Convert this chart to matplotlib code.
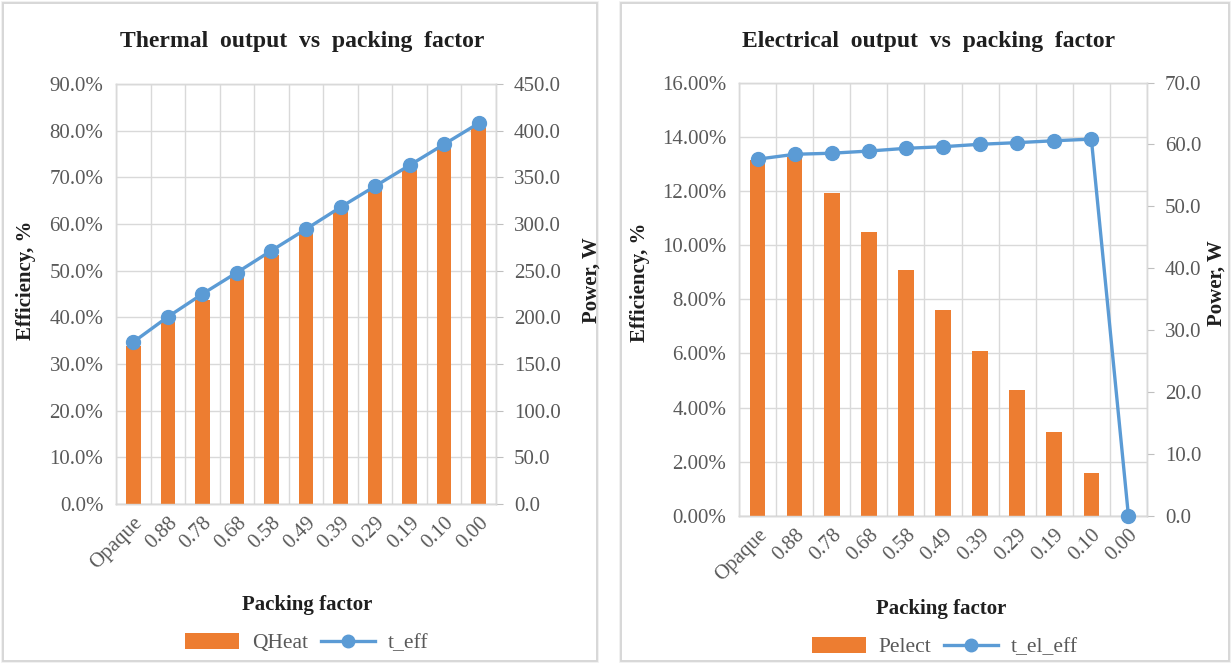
import matplotlib
matplotlib.use("Agg")
import matplotlib.pyplot as plt
from matplotlib.patches import Rectangle, Patch
from matplotlib.lines import Line2D
from matplotlib.ticker import FuncFormatter, MultipleLocator, FixedLocator

# ---- data ----
categories = ["Opaque", "0.88", "0.78", "0.68", "0.58", "0.49", "0.39", "0.29", "0.19", "0.10", "0.00"]

thermal_eff = [34.7, 40.1, 45.0, 49.6, 54.3, 58.9, 63.6, 68.1, 72.6, 77.1, 81.6]      # %
thermal_power = [169, 195, 219, 243, 267, 290, 313, 336, 358, 381, 403]                # W

electrical_eff = [13.17, 13.35, 13.39, 13.47, 13.57, 13.63, 13.72, 13.78, 13.85, 13.91, 0.0]  # %
electrical_power = [57.5, 58.0, 52.2, 45.9, 39.7, 33.3, 26.7, 20.3, 13.5, 6.9, 0.0]          # W

ORANGE = "#ED7D31"
BLUE = "#5B9BD5"
GRID = "#D9D9D9"
TICK = "#595959"
DARK = "#1F1F1F"
SERIF = ["Liberation Serif", "DejaVu Serif"]

TICK_FS = 15
TITLE_FS = 17
LABEL_FS = 15
LEGEND_FS = 15.5

plt.rcParams["font.family"] = SERIF

W, H = 1231, 663
fig = plt.figure(figsize=(W / 100, H / 100), dpi=100)


def px_rect(x0, y0, x1, y1):
    """Figure-fraction rectangle from pixel box (top-left origin)."""
    return [x0 / W, 1 - y1 / H, (x1 - x0) / W, (y1 - y0) / H]


def fx(x):
    return x / W


def fy(y):
    return 1 - y / H


# panel frames with a soft edge
for (x0, y0, x1, y1) in [(3, 3, 597, 661), (621, 3, 1229, 661)]:
    for k, c in enumerate(["#EFEFEF", "#E3E3E3", "#D6D6D6"]):
        fig.patches.append(Rectangle((fx(x0 - 1 + k * 0.6), fy(y1 + 1 - k * 0.6)),
                                     (x1 - x0 + 2 - k * 1.2) / W, (y1 - y0 + 2 - k * 1.2) / H,
                                     transform=fig.transFigure, fill=False,
                                     edgecolor=c, linewidth=1.2, zorder=0))


def make_panel(box, eff, power, eff_max, eff_step, eff_fmt, pow_max, pow_step):
    ax = fig.add_axes(px_rect(*box))
    ax2 = ax.twinx()
    n = len(categories)
    xs = list(range(n))

    ax.set_xlim(-0.5, n - 0.5)
    ax.set_ylim(0, eff_max)
    ax2.set_ylim(0, pow_max)

    # grid: horizontal on efficiency ticks, vertical on category boundaries
    ax.yaxis.set_major_locator(MultipleLocator(eff_step))
    ax.yaxis.set_major_formatter(FuncFormatter(eff_fmt))
    ax.xaxis.set_major_locator(FixedLocator(xs))
    ax.xaxis.set_minor_locator(FixedLocator([i - 0.5 for i in range(n + 1)]))
    ax.set_xticklabels(categories)
    ax.grid(True, axis="y", which="major", color=GRID, linewidth=1.0)
    ax.grid(True, axis="x", which="minor", color=GRID, linewidth=1.0)
    ax.set_axisbelow(True)

    ax2.yaxis.set_major_locator(MultipleLocator(pow_step))
    ax2.yaxis.set_major_formatter(FuncFormatter(lambda v, p: f"{v:.1f}"))

    for a in (ax, ax2):
        for s in a.spines.values():
            s.set_color(GRID)
            s.set_linewidth(1.0)
    ax.spines["bottom"].set_color("#BFBFBF")

    ax.tick_params(axis="y", length=0, labelsize=TICK_FS, labelcolor=TICK, pad=9)
    ax.tick_params(axis="x", which="both", length=0, labelsize=TICK_FS, labelcolor=TICK, pad=7)
    ax2.tick_params(axis="y", length=5, color="#BFBFBF", labelsize=TICK_FS, labelcolor=TICK, pad=8)
    for lab in ax.get_xticklabels():
        lab.set_rotation(45)
        lab.set_ha("right")
        lab.set_rotation_mode("anchor")

    ax2.bar(xs, power, width=0.42, color=ORANGE, zorder=2)
    ax2.plot(xs, eff, color=BLUE, linewidth=2.4, marker="o", markersize=10,
             transform=ax.transData, clip_on=False, zorder=3)
    return ax, ax2


def pct1(v, p):
    return f"{v:.1f}%"


def pct2(v, p):
    return f"{v:.2f}%"


# ---- thermal panel ----
make_panel((116, 84, 496, 504), thermal_eff, thermal_power, 90, 10, pct1, 450, 50)
fig.text(fx(302), fy(41), "Thermal  output  vs  packing  factor", ha="center", va="center",
         fontsize=TITLE_FS, fontweight="bold", color=DARK)
fig.text(fx(307), fy(605), "Packing factor", ha="center", va="center",
         fontsize=LABEL_FS, fontweight="bold", color=DARK)
fig.text(fx(26), fy(280), "Efficiency, %", ha="center", va="center", rotation=90,
         fontsize=LABEL_FS, fontweight="bold", color=DARK)
fig.text(fx(592), fy(280), "Power, W", ha="center", va="center", rotation=90,
         fontsize=LABEL_FS, fontweight="bold", color=DARK)

# ---- electrical panel ----
make_panel((739, 82.5, 1147, 516), electrical_eff, electrical_power, 16, 2, pct2, 70, 10)
fig.text(fx(929), fy(41), "Electrical  output  vs  packing  factor", ha="center", va="center",
         fontsize=TITLE_FS, fontweight="bold", color=DARK)
fig.text(fx(941), fy(609), "Packing factor", ha="center", va="center",
         fontsize=LABEL_FS, fontweight="bold", color=DARK)
fig.text(fx(640), fy(282), "Efficiency, %", ha="center", va="center", rotation=90,
         fontsize=LABEL_FS, fontweight="bold", color=DARK)
fig.text(fx(1217), fy(283), "Power, W", ha="center", va="center", rotation=90,
         fontsize=LABEL_FS, fontweight="bold", color=DARK)

# ---- legends ----
for cx, cy, blab, llab in [(307, 643, "QHeat", "t_eff"), (945, 647, "Pelect", "t_el_eff")]:
    handles = [Patch(facecolor=ORANGE, edgecolor="none"),
               Line2D([], [], color=BLUE, linewidth=2.4, marker="o", markersize=9)]
    fig.legend(handles, [blab, llab], loc="center", bbox_to_anchor=(fx(cx), fy(cy)),
               ncol=2, frameon=False, fontsize=LEGEND_FS, handlelength=2.5, handleheight=0.8,
               columnspacing=0.6, handletextpad=0.6, labelcolor=TICK)

fig.savefig("out.png", dpi=100)
